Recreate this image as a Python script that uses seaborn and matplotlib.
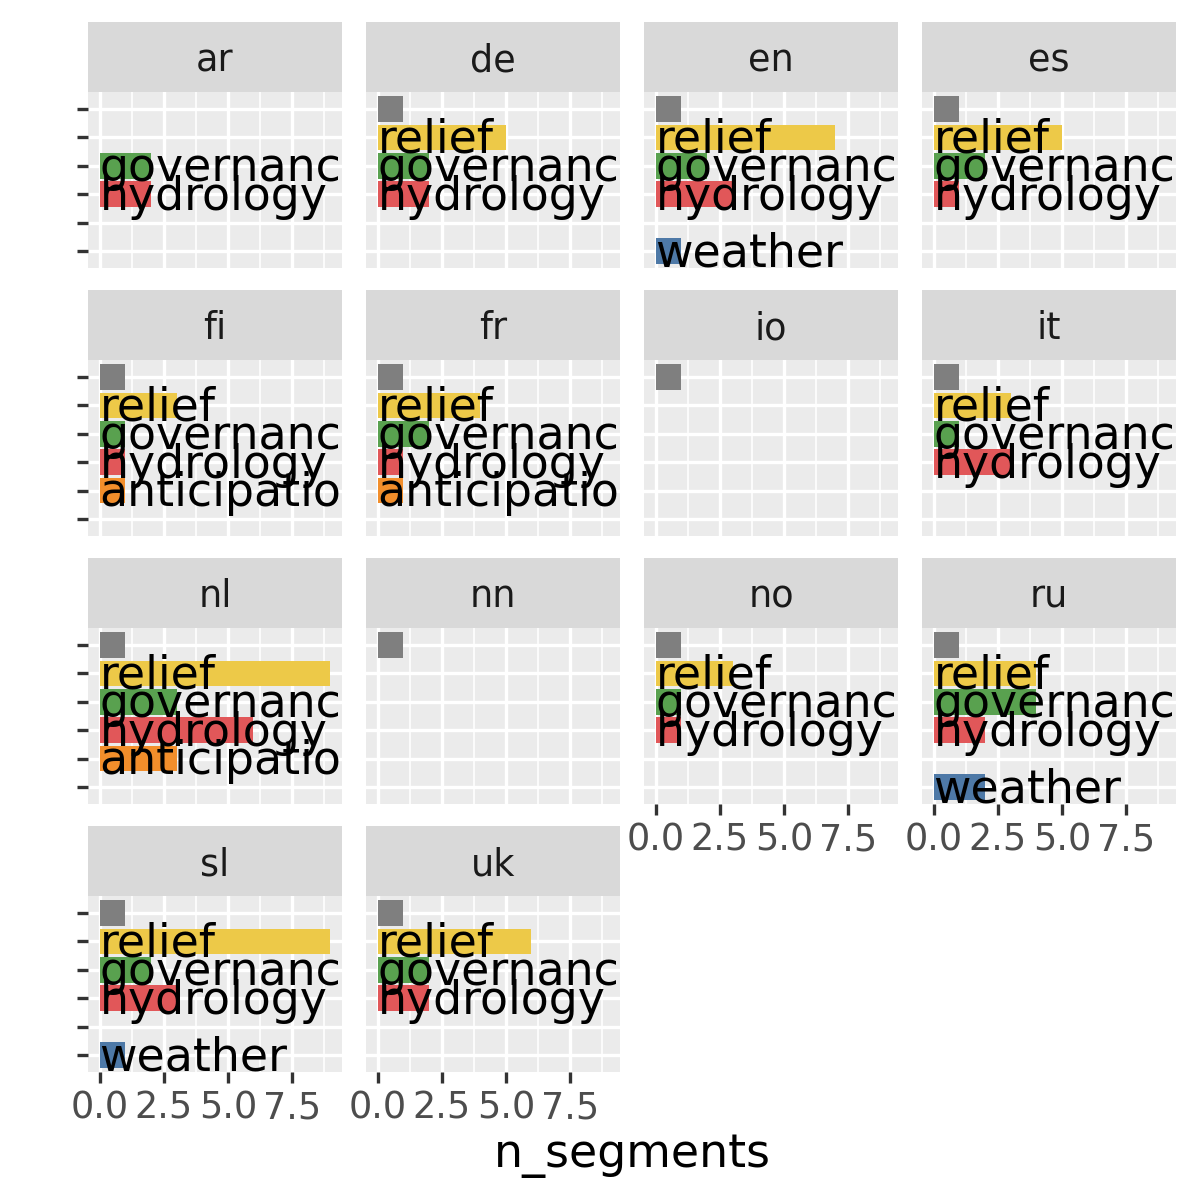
import matplotlib
matplotlib.use("Agg")
import pandas as pd
import matplotlib.pyplot as plt
import seaborn as sns

# data
languages = ["ar", "de", "en", "es", "fi", "fr", "io", "it",
             "nl", "nn", "no", "ru", "sl", "uk"]
categories = ["NA", "relief", "governance", "hydrology", "anticipation", "weather"]

# n_segments per language, in the order of `categories` (0 = no bar)
ar = [0, 0, 2, 2, 0, 0]
de = [1, 5, 2, 2, 0, 0]
en = [1, 7, 2, 3, 0, 1]
es = [1, 5, 2, 1, 0, 0]
fi = [1, 3, 1, 1, 1, 0]
fr = [1, 4, 2, 1, 1, 0]
io = [1, 0, 0, 0, 0, 0]
it = [1, 3, 1, 3, 0, 0]
nl = [1, 9, 3, 6, 3, 0]
nn = [1, 0, 0, 0, 0, 0]
no = [1, 3, 1, 1, 0, 0]
ru = [1, 4, 4, 2, 0, 2]
sl = [1, 9, 2, 3, 0, 1]
uk = [1, 6, 2, 2, 0, 0]
counts = [ar, de, en, es, fi, fr, io, it, nl, nn, no, ru, sl, uk]

palette = {"NA": "#7F7F7F", "relief": "#EDC948", "governance": "#59A14F",
           "hydrology": "#E15759", "anticipation": "#F28E2B", "weather": "#4E79A7"}

rows = []
for lang, vals in zip(languages, counts):
    for cat, v in zip(categories, vals):
        if v > 0:
            rows.append({"language": lang, "category": cat, "n_segments": v})
df = pd.DataFrame(rows)

# layout in pixels (ggplot facet_wrap look)
W = H = 1200
col_left = [88, 366, 644, 922]
row_top = [22, 290, 558, 826]
panel_w, panel_h, strip_h = 254, 176, 70


def frac(x, y, w, h):
    return [x / W, 1 - (y + h) / H, w / W, h / H]


fig = plt.figure(figsize=(12, 12), dpi=100)
n = len(languages)

for i, lang in enumerate(languages):
    r, c = divmod(i, 4)
    ax = fig.add_axes(frac(col_left[c], row_top[r] + strip_h, panel_w, panel_h))
    sub = df[df["language"] == lang]
    sns.barplot(data=sub, x="n_segments", y="category", order=categories,
                hue="category", hue_order=categories, palette=palette,
                dodge=False, width=0.9, saturation=1, errorbar=None,
                linewidth=0, legend=False, ax=ax, zorder=2)
    # labels start at 0 and get clipped by the panel, like the reference
    for _, row in sub.iterrows():
        if row["category"] == "NA":
            continue
        ax.text(0, categories.index(row["category"]) + 0.1, row["category"],
                ha="left", va="center", fontsize=33, color="black",
                clip_on=True, zorder=3)

    ax.set_facecolor("#EBEBEB")
    ax.set_xlim(-0.45, 9.45)
    ax.set_ylim(5.6, -0.6)
    ax.set_xticks([0, 2.5, 5, 7.5])
    ax.set_xticklabels(["0.0", "2.5", "5.0", "7.5"])
    ax.set_xticks([1.25, 3.75, 6.25, 8.75], minor=True)
    ax.set_yticks(range(len(categories)))
    ax.set_yticklabels([""] * len(categories))
    ax.set_xlabel("")
    ax.set_ylabel("")
    ax.set_axisbelow(True)
    ax.grid(which="major", color="white", linewidth=2.4)
    ax.grid(which="minor", axis="x", color="white", linewidth=1.2)
    for s in ax.spines.values():
        s.set_visible(False)
    ax.tick_params(which="minor", length=0)
    ax.tick_params(which="major", length=8.25, width=2.4, color="#333333",
                   labelsize=26.4, labelcolor="#4D4D4D", pad=4)

    bottom = (i + 4 >= n)
    if not bottom:
        ax.tick_params(axis="x", which="both", bottom=False, labelbottom=False)
    if c != 0:
        ax.tick_params(axis="y", which="both", left=False, labelleft=False)

    sax = fig.add_axes(frac(col_left[c], row_top[r], panel_w, strip_h))
    sax.set_facecolor("#D9D9D9")
    sax.set_xticks([])
    sax.set_yticks([])
    for s in sax.spines.values():
        s.set_visible(False)
    sax.text(0.5, 0.45, lang, ha="center", va="center", fontsize=26.4,
             color="#1A1A1A", transform=sax.transAxes)

fig.text(632 / W, 1 - 1155 / H, "n_segments", ha="center", va="center",
         fontsize=33, color="black")

fig.savefig("out.png", dpi=100, facecolor="white")
